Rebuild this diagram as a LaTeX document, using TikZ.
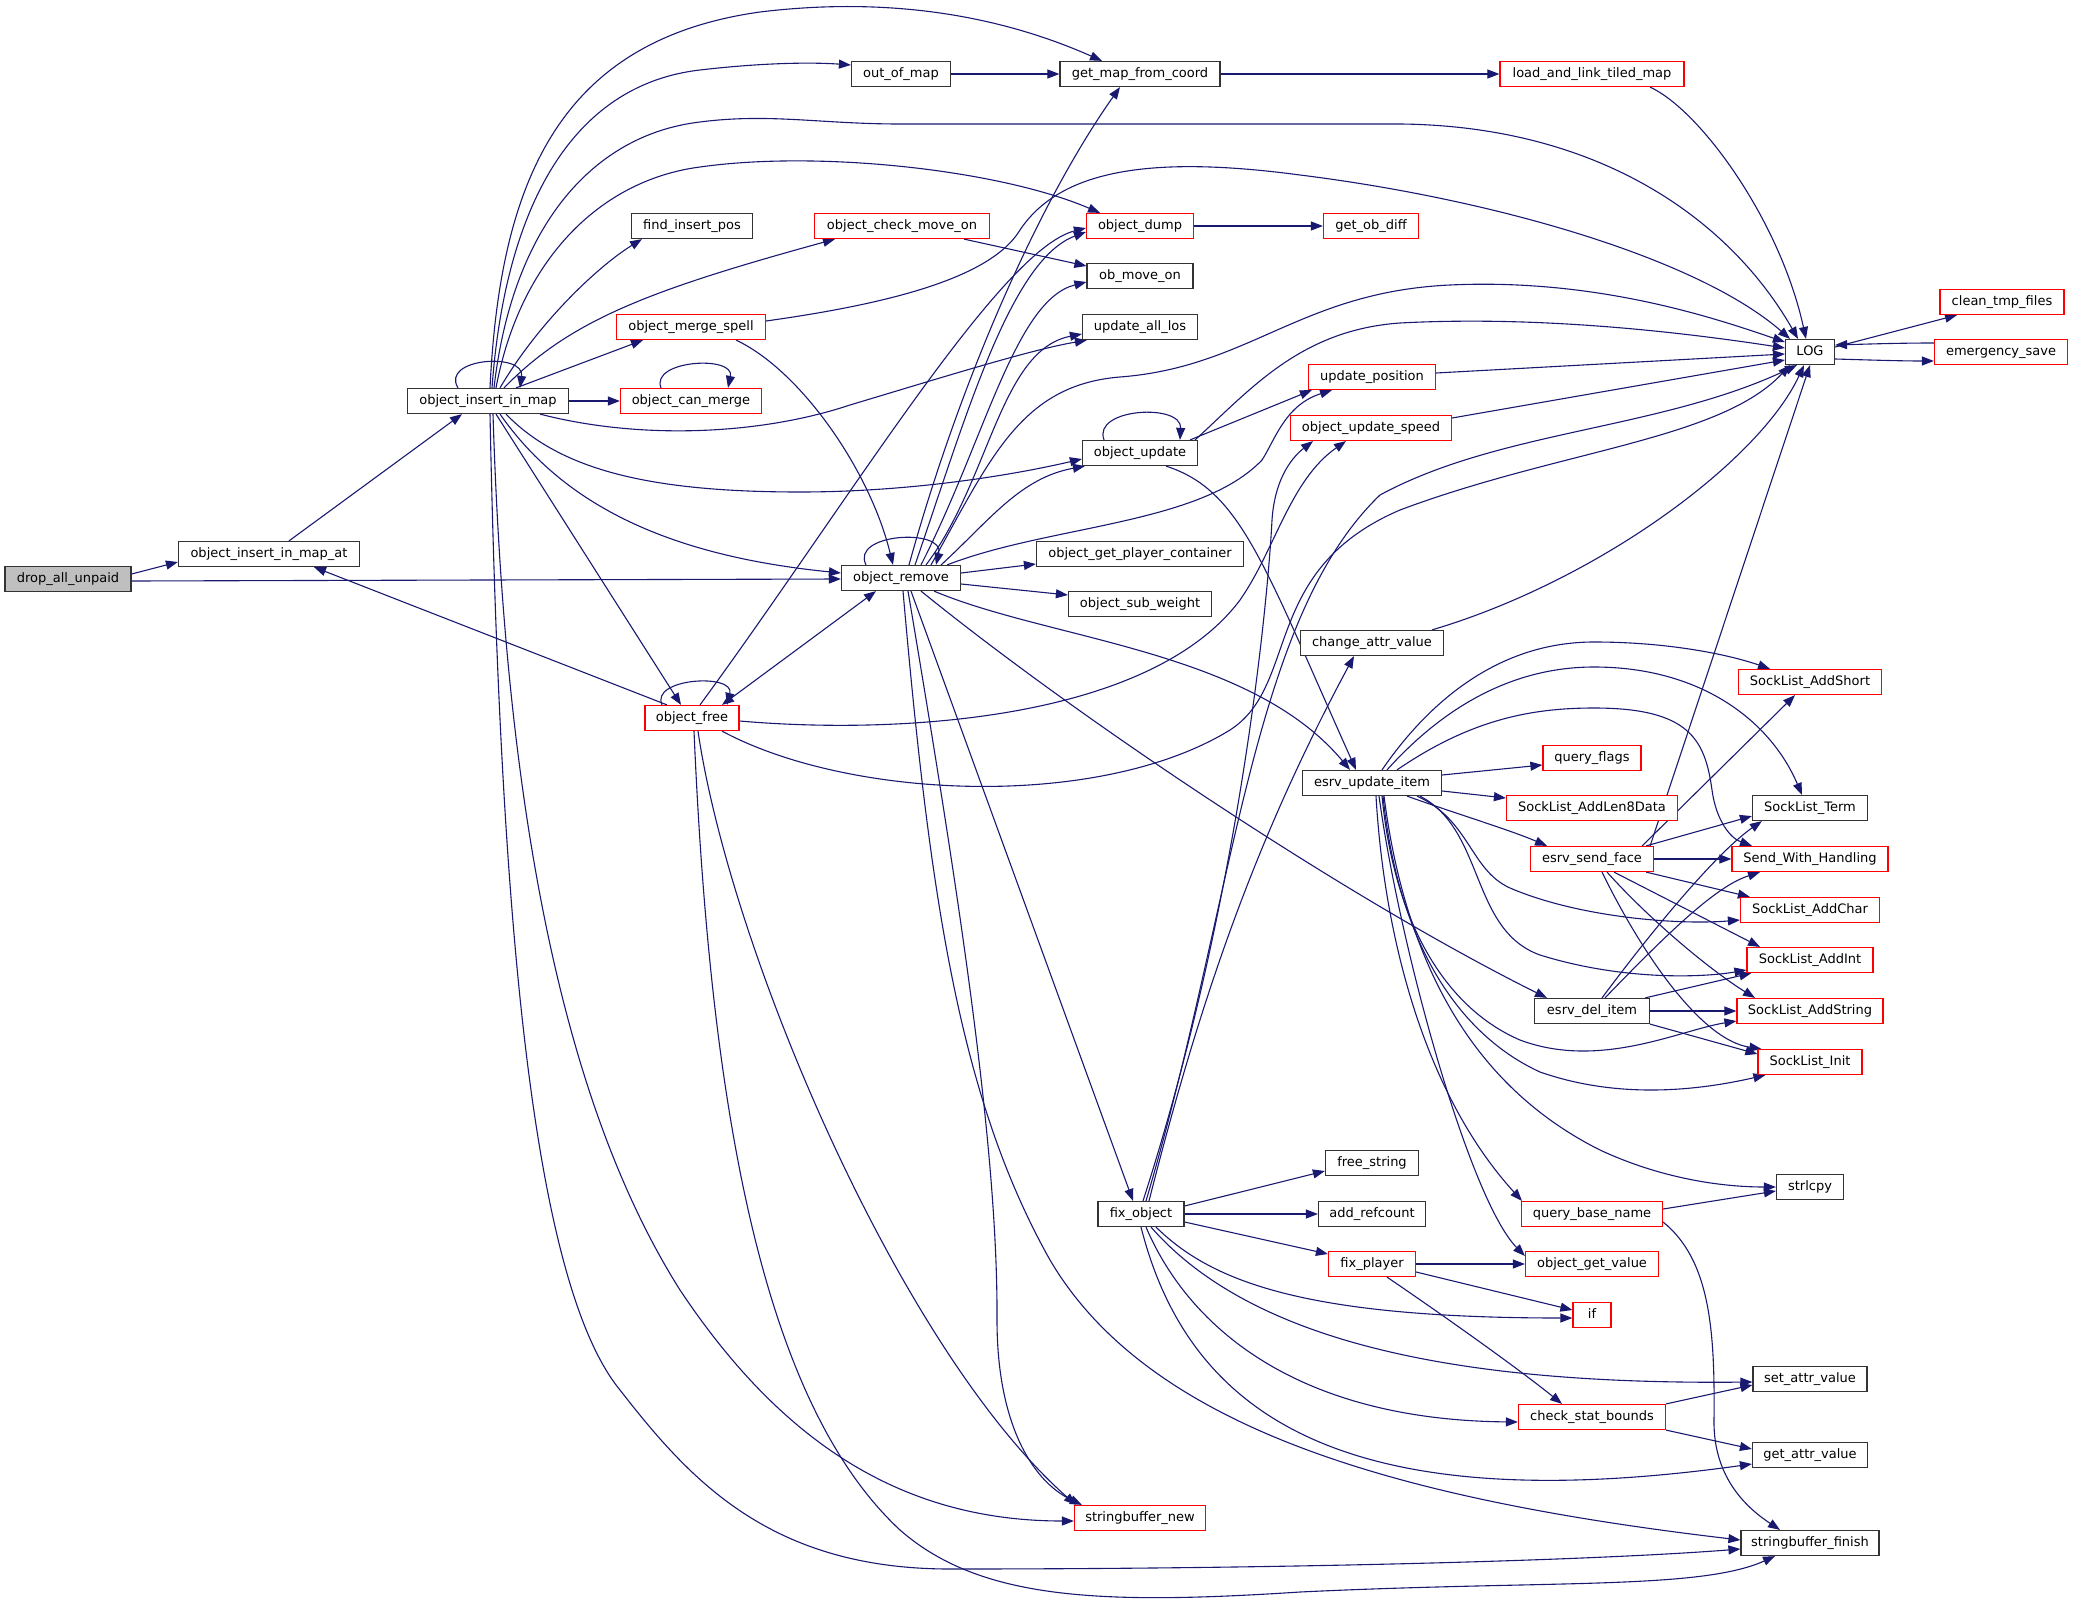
\documentclass[tikz,border=0pt]{standalone}
\usepackage{fontspec}
\setmainfont{DejaVu Sans}
\usetikzlibrary{arrows.meta}
\definecolor{edgec}{HTML}{191970}
\definecolor{nodeb}{HTML}{333333}
\definecolor{nodered}{HTML}{FF0000}
\definecolor{dgray}{HTML}{BFBFBF}
\pgfdeclarelayer{bg}
\pgfsetlayers{bg,main}
\begin{document}
\begin{tikzpicture}[x=1pt,y=-1pt,
  nb/.style={draw=nodeb, line width=1.2pt, fill=white, minimum height=25pt, inner xsep=2pt, inner ysep=0pt,
    font=\fontsize{13pt}{15pt}\selectfont, text height=9.8pt, text depth=2.8pt},
  nr/.style={nb, draw=nodered},
  e/.style={draw=edgec, line width=1.1pt, -{Triangle[length=12pt,width=9pt]}},
  eb/.style={draw=edgec, line width=1.1pt, {Triangle[length=12pt,width=9pt]}-{Triangle[length=12pt,width=9pt]}}]
\useasboundingbox (0,0) rectangle (2075,1608);
% nodes
\node[nb,fill=dgray,minimum width=126pt] (dau) at (68,579) {drop\_all\_unpaid};
\node[nb,minimum width=181pt] (iima) at (269,554) {object\_insert\_in\_map\_at};
\node[nb,minimum width=161pt] (iim) at (488,401) {object\_insert\_in\_map};
\node[nb,minimum width=99pt] (oom) at (901,74) {out\_of\_map};
\node[nb,minimum width=160pt] (gmfc) at (1140,74) {get\_map\_from\_coord};
\node[nr,minimum width=184pt] (lltm) at (1592,74) {load\_and\_link\_tiled\_map};
\node[nb,minimum width=121pt] (fip) at (692,226) {find\_insert\_pos};
\node[nr,minimum width=175pt] (ocmo) at (902,226) {object\_check\_move\_on};
\node[nr,minimum width=107pt] (od) at (1140,226) {object\_dump};
\node[nr,minimum width=95pt] (god) at (1371,226) {get\_ob\_diff};
\node[nb,minimum width=106pt] (omo) at (1140,276) {ob\_move\_on};
\node[nb,minimum width=115pt] (ual) at (1140,327) {update\_all\_los};
\node[nr,minimum width=149pt] (oms) at (691,327) {object\_merge\_spell};
\node[nr,minimum width=141pt] (ocm) at (691,401) {object\_can\_merge};
\node[nb,minimum width=49pt] (log) at (1810,352) {LOG};
\node[nr,minimum width=124pt] (ctf) at (2002,302) {clean\_tmp\_files};
\node[nr,minimum width=133pt] (esave) at (2001,352) {emergency\_save};
\node[nr,minimum width=127pt] (upos) at (1372,377) {update\_position};
\node[nr,minimum width=161pt] (ous) at (1371,428) {object\_update\_speed};
\node[nb,minimum width=115pt] (ou) at (1140,453) {object\_update};
\node[nb,minimum width=119pt] (rem) at (901,578) {object\_remove};
\node[nb,minimum width=207pt] (ogpc) at (1140,554) {object\_get\_player\_container};
\node[nb,minimum width=143pt] (osw) at (1140,604) {object\_sub\_weight};
\node[nr,minimum width=94pt] (ofr) at (692,718) {object\_free};
\node[nb,minimum width=143pt] (cav) at (1372,643) {change\_attr\_value};
\node[nb,minimum width=139pt] (eui) at (1372,783) {esrv\_update\_item};
\node[nr,minimum width=98pt] (qf) at (1592,758) {query\_flags};
\node[nr,minimum width=171pt] (sla8) at (1592,808) {SockList\_AddLen8Data};
\node[nr,minimum width=123pt] (esf) at (1592,859) {esrv\_send\_face};
\node[nr,minimum width=143pt] (slas) at (1810,682) {SockList\_AddShort};
\node[nb,minimum width=115pt] (slt) at (1810,808) {SockList\_Term};
\node[nr,minimum width=156pt] (swh) at (1810,859) {Send\_With\_Handling};
\node[nr,minimum width=139pt] (slac) at (1810,910) {SockList\_AddChar};
\node[nr,minimum width=126pt] (slai) at (1810,960) {SockList\_AddInt};
\node[nr,minimum width=146pt] (slastr) at (1810,1011) {SockList\_AddString};
\node[nr,minimum width=104pt] (sli) at (1810,1062) {SockList\_Init};
\node[nb,minimum width=115pt] (edi) at (1592,1011) {esrv\_del\_item};
\node[nb,minimum width=67pt] (strl) at (1810,1187) {strlcpy};
\node[nb,minimum width=93pt] (fstr) at (1372,1163) {free\_string};
\node[nb,minimum width=107pt] (ar) at (1372,1214) {add\_refcount};
\node[nb,minimum width=86pt] (fo) at (1141,1214) {fix\_object};
\node[nr,minimum width=141pt] (qbn) at (1592,1214) {query\_base\_name};
\node[nr,minimum width=87pt] (fp) at (1372,1264) {fix\_player};
\node[nr,minimum width=133pt] (ogv) at (1592,1264) {object\_get\_value};
\node[nr,minimum width=38pt] (nif) at (1592,1315) {if};
\node[nb,minimum width=114pt] (sav) at (1810,1379) {set\_attr\_value};
\node[nr,minimum width=147pt] (csb) at (1592,1417) {check\_stat\_bounds};
\node[nb,minimum width=115pt] (gav) at (1810,1455) {get\_attr\_value};
\node[nr,minimum width=131pt] (sbn) at (1140,1518) {stringbuffer\_new};
\node[nb,minimum width=138pt] (sbf) at (1810,1543) {stringbuffer\_finish};

\begin{pgfonlayer}{bg}
% drop_all_unpaid
\draw[e] ([yshift=5pt]dau.east) -- ([yshift=-8pt]iima.west);
\draw[e] ([yshift=-2pt]dau.east) -- ([yshift=-1pt]rem.west);
% object_insert_in_map_at
\draw[e] ([xshift=20pt]iima.north) -- ([xshift=-26pt]iim.south);
% object_insert_in_map
\draw[e] ([xshift=-30pt]iim.north) .. controls (440,358) and (525,352) .. ([xshift=32pt]iim.north);
\draw[e] ([xshift=2pt]iim.north) .. controls (500,180) and (560,40) .. (760,12) .. controls (900,-5) and (1010,20) .. ([xshift=-38pt]gmfc.north);
\draw[e] ([xshift=4pt]iim.north) .. controls (505,210) and (570,85) .. (700,70) .. controls (760,63) and (810,62) .. ([yshift=9pt]oom.west);
\draw[e] ([xshift=6pt]iim.north) .. controls (512,230) and (590,135) .. (700,122) .. controls (770,113) and (820,124) .. (900,124) -- (1400,124) .. controls (1600,126) and (1730,220) .. ([xshift=-12pt]log.north);
\draw[e] ([xshift=8pt]iim.north) .. controls (520,260) and (600,180) .. (700,167) .. controls (820,150) and (1000,170) .. ([xshift=-40pt]od.north);
\draw[e] ([xshift=12pt]iim.north) .. controls (540,320) and (600,265) .. ([xshift=-50pt]fip.south);
\draw[e] ([xshift=16pt]iim.north) .. controls (570,320) and (650,290) .. ([xshift=-67pt]ocmo.south);
\draw[e] ([xshift=28pt]iim.north) -- ([xshift=-48pt]oms.south);
\draw[e] (iim.east) -- (ocm.west);
\draw[e] ([xshift=52pt]iim.south) .. controls (640,440) and (760,435) .. (850,405) .. controls (950,375) and (1030,350) .. ([xshift=5pt]ual.south west);
\draw[e] ([xshift=18pt]iim.south) .. controls (560,470) and (650,492) .. (800,492) .. controls (900,492) and (1000,478) .. ([yshift=-6pt]ou.west);
\draw[e] ([xshift=12pt]iim.south) .. controls (560,500) and (660,555) .. ([yshift=5pt]rem.west);
\draw[e] ([xshift=8pt]iim.south) -- ([xshift=-11pt]ofr.north);
\draw[e] ([xshift=2pt]iim.south) .. controls (500,900) and (530,1280) .. (620,1390) .. controls (690,1480) and (770,1569) .. (950,1569) .. controls (1300,1569) and (1600,1560) .. ([yshift=-6pt]sbf.west);
\draw[e] ([xshift=5pt]iim.south) .. controls (505,800) and (560,1100) .. (680,1290) .. controls (780,1440) and (900,1521) .. ([yshift=-3pt]sbn.west);
% object_can_merge
\draw[e] ([xshift=-30pt]ocm.north) .. controls (650,360) and (735,355) .. ([xshift=37pt]ocm.north);
% chain at top
\draw[e] (oom) -- (gmfc);
\draw[e] (gmfc) -- (lltm);
\draw[e] ([xshift=58pt]lltm.south) .. controls (1700,110) and (1780,220) .. ([xshift=-4pt]log.north);
\draw[e] ([xshift=62pt]ocmo.south) -- ([yshift=10pt]omo.west);
\draw[e] (od) -- (god);
% object_merge_spell
\draw[e] ([yshift=6pt]oms.east) .. controls (880,305) and (990,280) .. (1020,230) .. controls (1060,170) and (1150,155) .. (1300,175) .. controls (1500,200) and (1700,260) .. ([xshift=-20pt]log.north);
\draw[e] ([xshift=45pt]oms.south) .. controls (800,370) and (870,470) .. ([xshift=-8pt]rem.north);
% object_remove
\draw[e] ([xshift=-35pt]rem.north) .. controls (850,533) and (945,528) .. ([xshift=35pt]rem.north);
\draw[e] ([xshift=8pt]rem.north) .. controls (960,380) and (1040,200) .. ([xshift=-20pt]gmfc.south);
\draw[e] ([xshift=14pt]rem.north) .. controls (965,420) and (1010,260) .. ([yshift=-6pt]od.west);
\draw[e] ([xshift=20pt]rem.north) .. controls (985,440) and (1015,300) .. ([yshift=-6pt]omo.west);
\draw[e] ([xshift=25pt]rem.north) .. controls (990,480) and (1000,350) .. ([yshift=-7pt]ual.west);
\draw[e] ([xshift=30pt]rem.north) .. controls (990,460) and (1020,385) .. (1120,377) .. controls (1250,367) and (1300,292) .. (1450,285) .. controls (1600,278) and (1720,320) .. ([yshift=10pt]log.west);
\draw[e] ([xshift=-20pt]rem.north east) .. controls (990,520) and (1020,478) .. ([xshift=3pt]ou.south west);
\draw[e] ([xshift=-14pt]rem.north east) .. controls (1050,525) and (1200,525) .. (1262,460) .. controls (1275,440) and (1285,405) .. ([xshift=-40pt]upos.south);
\draw[e] ([xshift=33pt]rem.south) .. controls (1050,640) and (1250,650) .. ([xshift=-22pt]eui.north);
\draw[e] ([xshift=20pt]rem.south) .. controls (1080,720) and (1350,900) .. ([xshift=-45pt]edi.north);
\draw[e] ([xshift=10pt]rem.south) -- ([xshift=-8pt]fo.north);
\draw[e] ([yshift=5pt]rem.east) -- ([yshift=-10pt]ogpc.west);
\draw[e] ([yshift=-6pt]rem.east) -- ([yshift=9pt]osw.west);
\draw[e] ([xshift=7pt]rem.south) .. controls (960,900) and (998,1150) .. (997,1320) .. controls (997,1420) and (1030,1480) .. ([xshift=8pt]sbn.north west);
\draw[e] ([xshift=2pt]rem.south) .. controls (930,900) and (960,1100) .. (1050,1260) .. controls (1150,1430) and (1400,1500) .. ([yshift=3pt]sbf.west);
\draw[eb] ([xshift=30pt]ofr.north) -- ([xshift=-25pt]rem.south);
% object_free
\draw[e] ([xshift=-30pt]ofr.north) .. controls (650,678) and (735,673) .. ([xshift=35pt]ofr.north);
\draw[e] ([xshift=-25pt]ofr.north) -- ([xshift=45pt]iima.south);
\draw[e] ([xshift=8pt]ofr.north) .. controls (850,500) and (1000,250) .. ([yshift=-2pt]od.west);
\draw[e] ([yshift=-3pt]ofr.east) .. controls (900,735) and (1150,720) .. (1240,600) .. controls (1275,550) and (1290,480) .. ([xshift=-25pt]ous.south);
\draw[e] ([xshift=30pt]ofr.south) .. controls (850,800) and (1100,810) .. (1230,730) .. controls (1300,685) and (1260,570) .. (1400,510) .. controls (1560,450) and (1720,440) .. ([xshift=-20pt]log.south);
\draw[e] ([xshift=6pt]ofr.south) .. controls (730,950) and (900,1350) .. ([xshift=2pt]sbn.north west);
\draw[e] ([xshift=2pt]ofr.south) .. controls (710,1100) and (760,1400) .. (900,1530) .. controls (980,1600) and (1100,1605) .. (1300,1592) .. controls (1550,1580) and (1700,1590) .. ([xshift=-35pt]sbf.south);
% object_update
\draw[e] ([xshift=-36pt]ou.north) .. controls (1092,408) and (1182,403) .. ([xshift=40pt]ou.north);
\draw[e] ([xshift=-8pt]ou.north east) -- ([xshift=4pt]upos.south west);
\draw[e] ([xshift=-3pt]ou.north east) .. controls (1250,390) and (1300,330) .. (1400,323) .. controls (1550,315) and (1700,335) .. ([yshift=4pt]log.west);
\draw[e] ([xshift=26pt]ou.south) .. controls (1240,490) and (1262,560) .. ([xshift=-16pt]eui.north);
% to LOG
\draw[e] ([yshift=4pt]upos.east) -- ([yshift=-2pt]log.west);
\draw[e] ([yshift=10pt]ous.east) -- ([yshift=-8pt]log.west);
\draw[e] ([xshift=60pt]cav.north) .. controls (1600,580) and (1760,460) .. ([xshift=-6pt]log.south);
\draw[e] ([yshift=9pt]esave.west) .. controls (1900,343) and (1870,344) .. ([yshift=7pt]log.east);
\draw[e] ([yshift=-7pt]log.east) .. controls (1870,360) and (1900,361) .. ([yshift=-9pt]esave.west);
\draw[e] ([yshift=5pt]log.east) -- ([xshift=-45pt]ctf.south);
% fix_object
\draw[e] ([xshift=2pt]fo.north) .. controls (1240,900) and (1268,600) .. (1272,520) .. controls (1275,475) and (1295,455) .. ([xshift=-58pt]ous.south);
\draw[e] ([xshift=5pt]fo.north) .. controls (1235,900) and (1250,620) .. (1380,495) .. controls (1500,430) and (1660,430) .. ([xshift=-13pt]log.south);
\draw[e] ([xshift=8pt]fo.north) .. controls (1200,1000) and (1255,840) .. ([xshift=-18pt]cav.south);
\draw[e] ([yshift=8pt]fo.east) -- ([yshift=-8pt]fstr.west);
\draw[e] (fo) -- (ar);
\draw[e] ([yshift=-8pt]fo.east) -- ([yshift=10pt]fp.west);
\draw[e] ([xshift=15pt]fo.south) .. controls (1210,1280) and (1300,1318) .. ([yshift=-3pt]nif.west);
\draw[e] ([xshift=10pt]fo.south) .. controls (1250,1340) and (1450,1385) .. ([yshift=-3pt]sav.west);
\draw[e] ([xshift=5pt]fo.south) .. controls (1190,1330) and (1300,1420) .. ([yshift=-5pt]csb.west);
\draw[e] (fo.south) .. controls (1190,1420) and (1350,1520) .. ([yshift=-9pt]gav.west);
% fix_player, check_stat_bounds, query_base_name
\draw[e] (fp) -- (ogv);
\draw[e] ([yshift=-8pt]fp.east) -- ([yshift=5pt]nif.west);
\draw[e] ([xshift=15pt]fp.south) .. controls (1450,1320) and (1520,1370) .. ([xshift=-30pt]csb.north);
\draw[e] (csb.north east) -- ([yshift=-6pt]sav.west);
\draw[e] (csb.south east) -- ([yshift=6pt]gav.west);
\draw[e] ([yshift=5pt]qbn.east) -- ([yshift=-4pt]strl.west);
\draw[e] ([yshift=-8pt]qbn.east) .. controls (1710,1260) and (1715,1330) .. (1714,1420) .. controls (1713,1480) and (1750,1510) .. ([xshift=-30pt]sbf.north);
% esrv_update_item
\draw[e] ([yshift=8pt]eui.east) -- ([yshift=-7pt]qf.west);
\draw[e] ([yshift=-8pt]eui.east) -- ([yshift=10pt]sla8.west);
\draw[e] ([xshift=35pt]eui.south) .. controls (1460,815) and (1510,830) .. ([xshift=-45pt]esf.north);
\draw[e] ([xshift=10pt]eui.north) .. controls (1430,700) and (1500,642) .. (1594,642) .. controls (1670,642) and (1730,655) .. ([xshift=-40pt]slas.north);
\draw[e] ([xshift=15pt]eui.north) .. controls (1450,700) and (1520,667) .. (1594,667) .. controls (1700,667) and (1770,720) .. ([xshift=-8pt]slt.north);
\draw[e] ([xshift=25pt]eui.north) .. controls (1470,720) and (1530,708) .. (1594,708) .. controls (1690,708) and (1705,740) .. (1712,790) .. controls (1716,820) and (1730,838) .. ([xshift=-58pt]swh.north);
\draw[e] ([xshift=45pt]eui.south) .. controls (1470,820) and (1470,870) .. (1510,888) .. controls (1580,918) and (1680,925) .. ([yshift=-10pt]slac.west);
\draw[e] ([xshift=48pt]eui.south) .. controls (1485,830) and (1470,930) .. (1540,955) .. controls (1620,980) and (1700,978) .. ([yshift=-10pt]slai.west);
\draw[e] ([xshift=10pt]eui.south) .. controls (1395,930) and (1450,1010) .. (1520,1040) .. controls (1600,1070) and (1680,1030) .. ([yshift=-10pt]slastr.west);
\draw[e] ([xshift=11pt]eui.south) .. controls (1400,960) and (1470,1040) .. (1540,1072) .. controls (1620,1100) and (1700,1090) .. ([xshift=8pt]sli.south west);
\draw[e] ([xshift=12pt]eui.south) .. controls (1410,1000) and (1500,1100) .. (1600,1150) .. controls (1660,1178) and (1720,1187) .. (strl.west);
\draw[e] ([xshift=4pt]eui.south) .. controls (1385,950) and (1430,1100) .. ([xshift=-70pt]qbn.north);
\draw[e] ([xshift=7pt]eui.south) .. controls (1400,950) and (1470,1200) .. ([yshift=8pt]ogv.west);
% esrv_send_face
\draw[e] ([xshift=-8pt]esf.north east) -- ([yshift=5pt]slt.south west);
\draw[e] (esf) -- (swh);
\draw[e] ([xshift=-8pt]esf.south east) -- ([xshift=10pt]slac.north west);
\draw[e] ([xshift=22pt]esf.south) -- ([xshift=-50pt]slai.north);
\draw[e] ([xshift=15pt]esf.south) .. controls (1650,920) and (1710,970) .. ([xshift=-55pt]slastr.north);
\draw[e] ([xshift=10pt]esf.south) .. controls (1640,950) and (1700,1040) .. ([xshift=4pt]sli.north west);
\draw[e] ([xshift=-12pt]esf.north east) -- ([xshift=-15pt]slas.south);
\draw[e] ([xshift=-4pt]esf.north east) -- (log.south);
% esrv_del_item
\draw[e] ([xshift=10pt]edi.north) .. controls (1660,920) and (1720,850) .. ([xshift=10pt]slt.south west);
\draw[e] ([xshift=13pt]edi.north) .. controls (1680,920) and (1720,885) .. ([xshift=-50pt]swh.south);
\draw[e] ([xshift=-5pt]edi.north east) -- ([xshift=5pt]slai.south west);
\draw[e] (edi) -- (slastr);
\draw[e] (edi.south east) -- ([yshift=8pt]sli.west);
\end{pgfonlayer}
\end{tikzpicture}
\end{document}
